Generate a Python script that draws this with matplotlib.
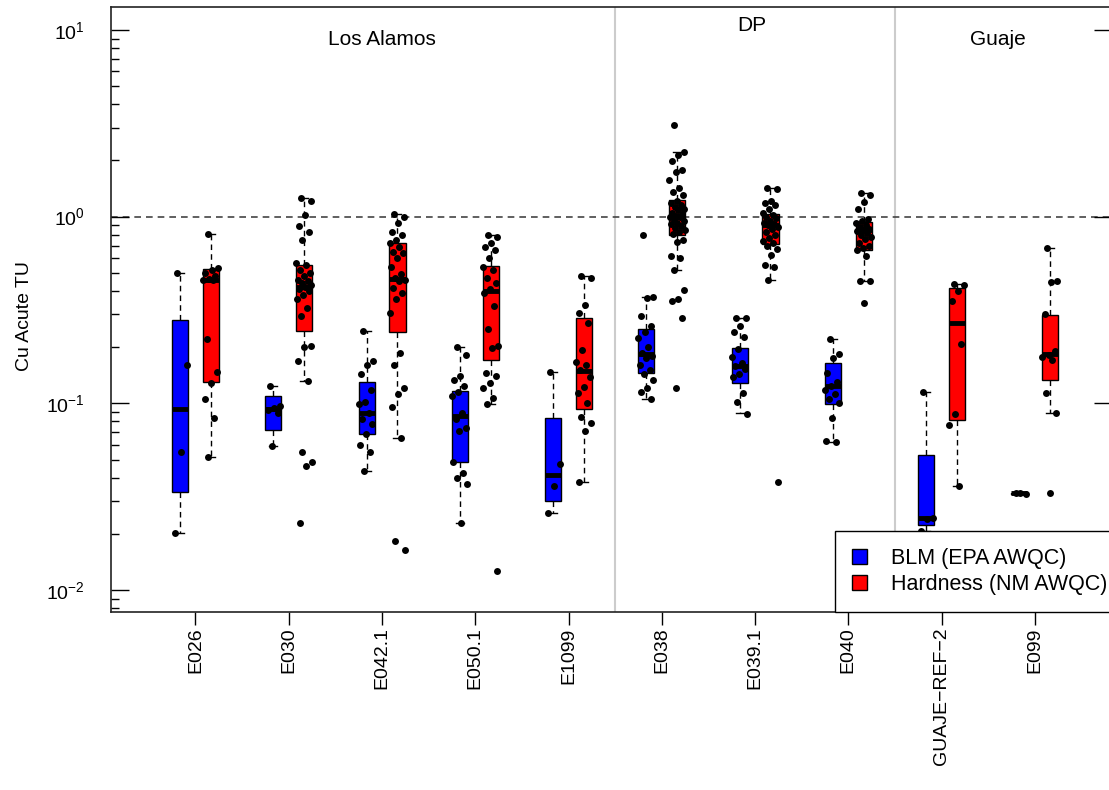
import numpy as np
import matplotlib
matplotlib.use('Agg')
import matplotlib.pyplot as plt
from matplotlib.patches import Patch
from matplotlib.ticker import LogLocator, LogFormatterSciNotation, NullFormatter

plt.rcParams['font.family'] = ['Liberation Sans', 'DejaVu Sans']
plt.rcParams['mathtext.fontset'] = 'custom'
plt.rcParams['mathtext.rm'] = 'Liberation Sans'
plt.rcParams['mathtext.it'] = 'Liberation Sans:italic'
plt.rcParams['mathtext.bf'] = 'Liberation Sans:bold'

sites = ['E026', 'E030', 'E042.1', 'E050.1', 'E1099',
         'E038', 'E039.1', 'E040', 'GUAJE\u2212REF\u22122', 'E099']
regions = ['Los Alamos', 'DP', 'Guaje']

# box summaries: (lower whisker, q1, median, q3, upper whisker)
blm_box = [
    (0.0203, 0.0333, 0.0937, 0.281, 0.496),
    (0.0591, 0.0717, 0.0929, 0.110, 0.124),
    (0.0435, 0.0683, 0.0891, 0.130, 0.244),
    (0.0228, 0.0486, 0.0855, 0.117, 0.200),
    (0.0257, 0.0301, 0.0414, 0.0838, 0.148),
    (0.106, 0.146, 0.183, 0.249, 0.369),
    (0.0884, 0.129, 0.158, 0.199, 0.287),
    (0.0624, 0.0988, 0.124, 0.165, 0.222),
    (0.0207, 0.0223, 0.0242, 0.0527, 0.115),
    (0.0326, 0.0326, 0.0329, 0.0332, 0.0332),
]
hard_box = [
    (0.0516, 0.130, 0.460, 0.525, 0.808),
    (0.131, 0.244, 0.421, 0.554, 1.259),
    (0.065, 0.241, 0.465, 0.723, 1.034),
    (0.0988, 0.170, 0.402, 0.547, 0.801),
    (0.0377, 0.0929, 0.149, 0.287, 0.483),
    (0.516, 0.801, 0.998, 1.233, 2.21),
    (0.455, 0.717, 0.906, 1.034, 1.42),
    (0.451, 0.666, 0.852, 0.932, 1.34),
    (0.0361, 0.0814, 0.270, 0.416, 0.433),
    (0.0886, 0.134, 0.183, 0.296, 0.682),
]

# individual toxic-unit values
blm_pts = [
    [0.496, 0.160, 0.0549, 0.0203],
    [0.124, 0.097, 0.094, 0.092, 0.089, 0.0591],
    [0.244, 0.168, 0.160, 0.143, 0.118, 0.102, 0.099, 0.089, 0.0827, 0.0774,
     0.0683, 0.0597, 0.0549, 0.0435],
    [0.200, 0.181, 0.140, 0.134, 0.124, 0.115, 0.110, 0.089, 0.082, 0.0741,
     0.0712, 0.0486, 0.0421, 0.040, 0.0369, 0.0228],
    [0.148, 0.0472, 0.0360, 0.0257],
    [0.801, 0.369, 0.365, 0.293, 0.259, 0.24, 0.225, 0.2, 0.185, 0.18, 0.175,
     0.16, 0.15, 0.143, 0.134, 0.121, 0.115, 0.106],
    [0.287, 0.285, 0.259, 0.24, 0.227, 0.195, 0.178, 0.165, 0.158, 0.152,
     0.144, 0.138, 0.114, 0.102, 0.088],
    [0.222, 0.183, 0.175, 0.146, 0.13, 0.124, 0.118, 0.112, 0.105, 0.101,
     0.0838, 0.0626, 0.0622],
    [0.115, 0.0244, 0.0240, 0.0207],
    [0.0329, 0.0328, 0.0330],
]
hard_pts = [
    [0.808, 0.53, 0.52, 0.50, 0.48, 0.465, 0.46, 0.455, 0.222, 0.147, 0.128,
     0.105, 0.0832, 0.0516],
    [1.26, 1.22, 1.016, 0.895, 0.824, 0.753, 0.565, 0.55, 0.52, 0.50, 0.48,
     0.46, 0.45, 0.44, 0.43, 0.42, 0.41, 0.40, 0.38, 0.36, 0.326, 0.293, 0.204,
     0.200, 0.168, 0.131, 0.0549, 0.0487, 0.0460, 0.0228],
    [1.034, 1.0, 0.925, 0.824, 0.80, 0.753, 0.723, 0.69, 0.65, 0.635, 0.60,
     0.538, 0.49, 0.47, 0.46, 0.45, 0.416, 0.391, 0.36, 0.306, 0.187, 0.160,
     0.121, 0.112, 0.095, 0.065, 0.0183, 0.0164],
    [0.80, 0.78, 0.723, 0.69, 0.66, 0.601, 0.54, 0.52, 0.47, 0.44, 0.41, 0.39,
     0.331, 0.249, 0.202, 0.198, 0.146, 0.140, 0.129, 0.121, 0.107, 0.0988,
     0.0127],
    [0.483, 0.47, 0.338, 0.306, 0.268, 0.192, 0.166, 0.160, 0.150, 0.138,
     0.123, 0.114, 0.100, 0.0849, 0.0782, 0.0711, 0.0377],
    [3.09, 2.21, 2.15, 1.98, 1.78, 1.74, 1.58, 1.42, 1.35, 1.3, 1.22, 1.18,
     1.15, 1.12, 1.1, 1.08, 1.05, 1.03, 1.01, 1.0, 0.99, 0.97, 0.95, 0.93,
     0.91, 0.89, 0.87, 0.85, 0.83, 0.81, 0.753, 0.73, 0.613, 0.6, 0.516,
     0.407, 0.363, 0.355, 0.287, 0.121],
    [1.42, 1.41, 1.21, 1.18, 1.15, 1.1, 1.05, 1.02, 1.0, 0.98, 0.95, 0.93,
     0.91, 0.9, 0.88, 0.86, 0.83, 0.8, 0.77, 0.74, 0.72, 0.7, 0.67, 0.626,
     0.554, 0.535, 0.455, 0.0381],
    [1.34, 1.3, 1.2, 1.1, 0.97, 0.95, 0.93, 0.9, 0.88, 0.86, 0.85, 0.84, 0.82,
     0.8, 0.78, 0.76, 0.72, 0.7, 0.68, 0.66, 0.613, 0.452, 0.45, 0.343],
    [0.433, 0.432, 0.399, 0.352, 0.207, 0.088, 0.0764, 0.0361],
    [0.682, 0.452, 0.445, 0.30, 0.19, 0.182, 0.176, 0.17, 0.114, 0.0886,
     0.0329],
]

fig = plt.figure(figsize=(11.09, 7.9), dpi=100)
ax = fig.add_axes([0.1001, 0.2253, 0.9026, 0.7658])
ax.set_yscale('log')

pos = np.arange(1, len(sites) + 1)
off = 0.166
w = 0.172

ax.axvline(5.5, color='#cccccc', lw=1.5, zorder=1)
ax.axvline(8.5, color='#cccccc', lw=1.5, zorder=1)
ax.axhline(1, color='#444444', lw=1.2, ls=(0, (4, 3)), zorder=1)


def to_stats(boxes):
    return [dict(whislo=b[0], q1=b[1], med=b[2], q3=b[3], whishi=b[4]) for b in boxes]


for boxes, pts, color, dx in [(blm_box, blm_pts, 'blue', -off),
                              (hard_box, hard_pts, 'red', off)]:
    ax.bxp(to_stats(boxes), positions=pos + dx, widths=w, capwidths=w / 2,
           patch_artist=True, showfliers=False, manage_ticks=False,
           boxprops=dict(facecolor=color, edgecolor='black', linewidth=1),
           medianprops=dict(color='black', linewidth=3.5, solid_capstyle='butt'),
           whiskerprops=dict(color='black', linewidth=1, linestyle=(0, (4, 3))),
           capprops=dict(color='black', linewidth=1), zorder=2)
    # spread the points sideways so they do not sit on top of each other
    for p, vals in zip(pos + dx, pts):
        n = len(vals)
        jit = ((np.arange(n) * 0.618034 + 0.3) % 1 - 0.5) * 0.17
        ax.scatter(p + jit, vals, s=25, color='black', linewidths=0, zorder=4)

ax.text(3.0, 8.84, regions[0], ha='center', va='center', fontsize=15)
ax.text(6.97, 10.6, regions[1], ha='center', va='center', fontsize=15)
ax.text(9.6, 8.84, regions[2], ha='center', va='center', fontsize=15)

ax.set_xlim(0.094, 10.828)
ax.set_ylim(0.00762, 13.27)
ax.set_xticks(pos)
ax.set_xticklabels(sites, rotation=90, fontsize=14)
ax.tick_params(axis='x', direction='out', length=9, width=1, pad=2)

ax.yaxis.set_major_locator(LogLocator(base=10))
ax.yaxis.set_major_formatter(LogFormatterSciNotation(base=10))
ax.yaxis.set_minor_locator(LogLocator(base=10, subs=np.arange(2, 10)))
ax.yaxis.set_minor_formatter(NullFormatter())
ax.tick_params(axis='y', which='major', direction='in', length=13, width=1,
               labelsize=14, pad=19, right=True)
ax.tick_params(axis='y', which='minor', direction='in', length=6, width=1,
               right=False)
ax.set_ylabel('Cu Acute TU', fontsize=14)
ax.yaxis.set_label_coords(-0.078, 0.49)

for s in ax.spines.values():
    s.set_linewidth(1.2)
    s.set_color('#222222')

handles = [Patch(facecolor='blue', edgecolor='black', label='BLM (EPA AWQC)'),
           Patch(facecolor='red', edgecolor='black', label='Hardness (NM AWQC)')]
leg = ax.legend(handles=handles, loc='lower left', bbox_to_anchor=(0.7233, 0),
                borderaxespad=0, fancybox=False, framealpha=1, edgecolor='black',
                fontsize=15.5, handlelength=0.7, handleheight=0.7,
                handletextpad=1.1, borderpad=0.8, labelspacing=0.2)
leg.get_frame().set_linewidth(1)

fig.savefig('out.png', dpi=100)
